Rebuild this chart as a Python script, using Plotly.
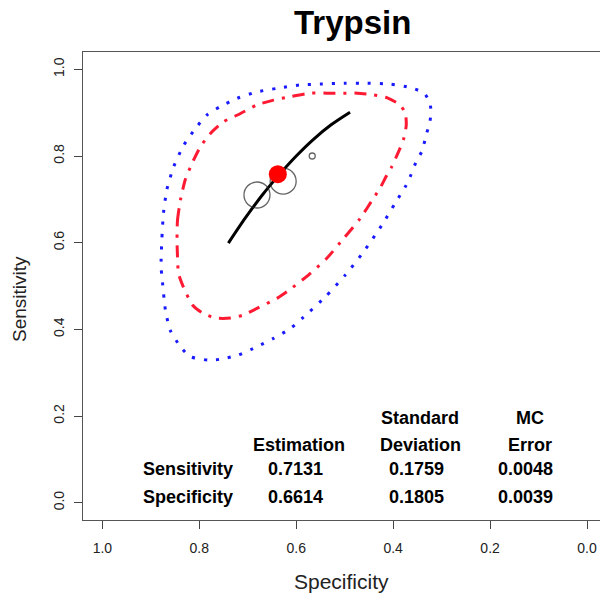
import plotly.graph_objects as go

# ---------------- data ----------------
title_text = "Trypsin"
x_title = "Specificity"
y_title = "Sensitivity"
tick_vals = [0.0, 0.2, 0.4, 0.6, 0.8, 1.0]
tick_text = ["0.0", "0.2", "0.4", "0.6", "0.8", "1.0"]

# 95% prediction region (blue dotted)
pred_spec = [0.879, 0.877, 0.874, 0.867, 0.853, 0.832, 0.805, 0.784, 0.757, 0.722, 0.681, 0.640,
             0.592, 0.551, 0.502, 0.454, 0.406, 0.365, 0.336, 0.324, 0.322, 0.325, 0.331, 0.341,
             0.351, 0.365, 0.375, 0.396, 0.423, 0.461, 0.499, 0.540, 0.585, 0.612, 0.647, 0.681,
             0.719, 0.757, 0.781, 0.819, 0.839, 0.860, 0.870, 0.877, 0.879]
pred_sens = [0.545, 0.614, 0.668, 0.722, 0.775, 0.825, 0.868, 0.895, 0.914, 0.933, 0.948, 0.956,
             0.964, 0.966, 0.968, 0.968, 0.966, 0.958, 0.945, 0.922, 0.898, 0.875, 0.852, 0.810,
             0.791, 0.752, 0.729, 0.691, 0.641, 0.579, 0.525, 0.475, 0.428, 0.402, 0.379, 0.360,
             0.341, 0.331, 0.329, 0.337, 0.360, 0.398, 0.445, 0.521, 0.545]

# 95% confidence region (red dash-dot)
conf_spec = [0.846, 0.845, 0.839, 0.829, 0.815, 0.798, 0.777, 0.750, 0.715, 0.681, 0.647, 0.612,
             0.571, 0.536, 0.503, 0.474, 0.441, 0.412, 0.386, 0.375, 0.373, 0.379, 0.392, 0.403,
             0.413, 0.427, 0.441, 0.468, 0.502, 0.537, 0.575, 0.619, 0.639, 0.680, 0.709, 0.736,
             0.767, 0.794, 0.814, 0.833, 0.843, 0.845, 0.846]
conf_sens = [0.606, 0.652, 0.698, 0.745, 0.783, 0.821, 0.852, 0.879, 0.898, 0.918, 0.929, 0.937,
             0.945, 0.945, 0.945, 0.945, 0.941, 0.934, 0.918, 0.899, 0.871, 0.837, 0.802, 0.775,
             0.756, 0.726, 0.702, 0.656, 0.610, 0.564, 0.525, 0.487, 0.472, 0.449, 0.433, 0.426,
             0.426, 0.438, 0.456, 0.498, 0.529, 0.567, 0.606]

# SROC curve
sroc_spec = [0.740, 0.705, 0.670, 0.635, 0.600, 0.565, 0.528, 0.489]
sroc_sens = [0.599, 0.657, 0.710, 0.757, 0.800, 0.838, 0.872, 0.901]

# individual studies
study_spec = [0.681, 0.627, 0.567]
study_sens = [0.710, 0.742, 0.800]

# summary point
summary_spec = [0.638]
summary_sens = [0.758]

# summary table
row_labels = ["Sensitivity", "Specificity"]
header_line1 = ["", "Standard", "MC"]
header_line2 = ["Estimation", "Deviation", "Error"]
sens_values = ["0.7131", "0.1759", "0.0048"]
spec_values = ["0.6614", "0.1805", "0.0039"]

# ---------------- layout geometry (pixels) ----------------
W, H = 600, 598
L, R, T, B = 83, 0, 52, 78
PW, PH = W - L - R, H - T - B


def px(x):
    return (x - L) / PW


def py(y):
    return (H - B - y) / PH


fig = go.Figure()

fig.add_trace(go.Scatter(x=pred_spec, y=pred_sens, mode="lines",
                         line=dict(color="#1a1aff", width=3, dash="3px,9px", shape="spline", smoothing=0.6),
                         hoverinfo="skip", showlegend=False))
fig.add_trace(go.Scatter(x=conf_spec, y=conf_sens, mode="lines",
                         line=dict(color="#ff1a33", width=3, dash="12px,8px,3px,8px", shape="spline", smoothing=0.6),
                         hoverinfo="skip", showlegend=False))
fig.add_trace(go.Scatter(x=sroc_spec, y=sroc_sens, mode="lines",
                         line=dict(color="black", width=3, shape="spline", smoothing=0.8),
                         hoverinfo="skip", showlegend=False))
fig.add_trace(go.Scatter(x=study_spec, y=study_sens, mode="markers",
                         marker=dict(symbol="circle-open", size=[26, 26, 6], color="#222222",
                                     line=dict(width=1.3, color="#222222")),
                         hoverinfo="skip", showlegend=False))
fig.add_trace(go.Scatter(x=summary_spec, y=summary_sens, mode="markers",
                         marker=dict(symbol="circle", size=18, color="#ff0000", line=dict(width=0)),
                         hoverinfo="skip", showlegend=False))

font_ax = dict(family="Liberation Sans, Arial, sans-serif", size=14, color="#222222")

fig.update_xaxes(range=[1.04, -0.0268], tickvals=tick_vals, ticktext=tick_text,
                 ticks="outside", ticklen=8, tickwidth=1, tickcolor="#444444",
                 showline=True, linecolor="#555555", linewidth=1.3, mirror=True,
                 showgrid=False, zeroline=False, tickfont=font_ax, ticklabelstandoff=7)
fig.update_yaxes(range=[-0.04, 1.04], tickvals=tick_vals, ticktext=tick_text,
                 ticks="outside", ticklen=8, tickwidth=1, tickcolor="#444444",
                 showline=True, linecolor="#555555", linewidth=1.3, mirror=False,
                 showgrid=False, zeroline=False, tickfont=font_ax, tickangle=-90,
                 ticklabelstandoff=4)

ann = []
ann.append(dict(text="<b>" + title_text + "</b>", x=px(352), y=py(22), xref="paper", yref="paper",
                showarrow=False, xanchor="center", yanchor="middle",
                font=dict(family="Liberation Sans, Arial, sans-serif", size=33, color="black")))
ann.append(dict(text=x_title, x=px(341), y=py(581), xref="paper", yref="paper",
                showarrow=False, xanchor="center", yanchor="middle",
                font=dict(family="Liberation Sans, Arial, sans-serif", size=21, color="#222222")))
ann.append(dict(text=y_title, x=px(19), y=py(299), xref="paper", yref="paper", textangle=-90,
                showarrow=False, xanchor="center", yanchor="middle",
                font=dict(family="Liberation Sans, Arial, sans-serif", size=19, color="#222222")))

tfont = dict(family="Liberation Sans, Arial, sans-serif", size=18, color="black")
hdr_x = [299, 420, 530]
val_x = [295, 416, 525]
row_y = [469, 497]
for i in range(3):
    if header_line1[i]:
        ann.append(dict(text="<b>" + header_line1[i] + "</b>", x=px(hdr_x[i]), y=py(418),
                        xref="paper", yref="paper", showarrow=False, xanchor="center",
                        yanchor="middle", font=tfont))
    ann.append(dict(text="<b>" + header_line2[i] + "</b>", x=px(hdr_x[i]), y=py(445),
                    xref="paper", yref="paper", showarrow=False, xanchor="center",
                    yanchor="middle", font=tfont))
    ann.append(dict(text="<b>" + sens_values[i] + "</b>", x=px(val_x[i]), y=py(row_y[0]),
                    xref="paper", yref="paper", showarrow=False, xanchor="center",
                    yanchor="middle", font=tfont))
    ann.append(dict(text="<b>" + spec_values[i] + "</b>", x=px(val_x[i]), y=py(row_y[1]),
                    xref="paper", yref="paper", showarrow=False, xanchor="center",
                    yanchor="middle", font=tfont))
for j, lab in enumerate(row_labels):
    ann.append(dict(text="<b>" + lab + "</b>", x=px(235), y=py(row_y[j]),
                    xref="paper", yref="paper", showarrow=False, xanchor="right",
                    yanchor="middle", font=tfont))

fig.update_layout(width=W, height=H, margin=dict(l=L, r=R, t=T, b=B, pad=0),
                  paper_bgcolor="white", plot_bgcolor="white", annotations=ann,
                  showlegend=False)

fig.write_html("out.html")
